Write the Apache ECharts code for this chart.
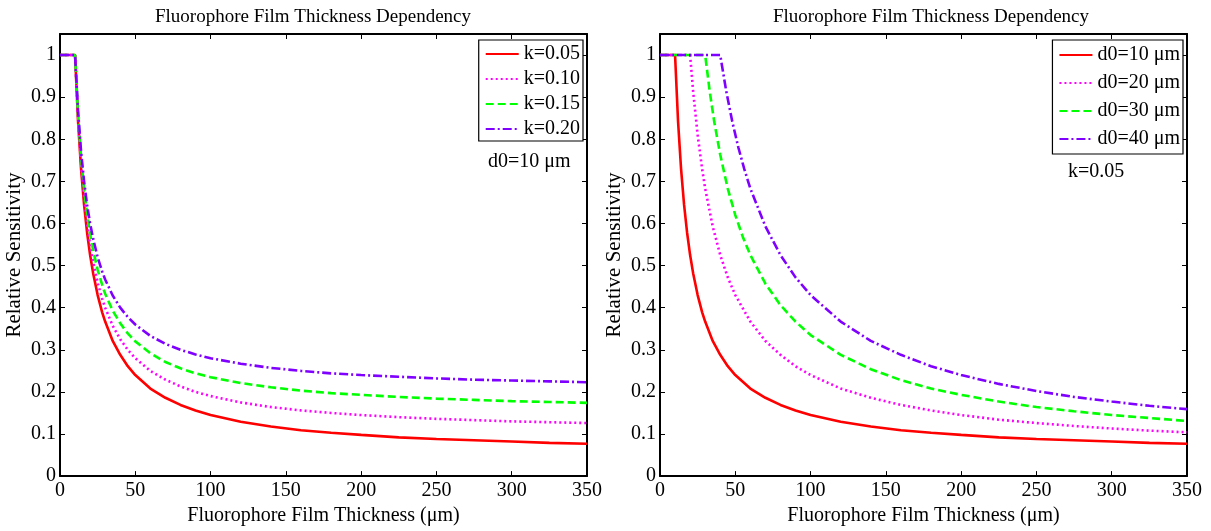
<!DOCTYPE html>
<html>
<head>
<meta charset="utf-8">
<script src="https://cdn.jsdelivr.net/npm/echarts@6/dist/echarts.min.js"></script>
<style>html,body{margin:0;padding:0;background:#fff}#c{width:1211px;height:531px}</style>
</head>
<body>
<div id="c"></div>
<script>
// ---- Left panel: d0 = 10 um, varying k ----
const leftX = [0,10,12,14,16,18,20,22,25,28,30,35,40,45,50,60,70,80,90,100,120,140,160,180,200,225,250,275,300,325,350];
const k005 = [1,1,0.842,0.729,0.644,0.578,0.525,0.482,0.430,0.389,0.367,0.321,0.288,0.261,0.240,0.208,0.186,0.169,0.156,0.145,0.129,0.118,0.109,0.103,0.098,0.092,0.088,0.085,0.082,0.079,0.077];
const k010 = [1,1,0.850,0.743,0.663,0.600,0.550,0.509,0.460,0.421,0.400,0.357,0.325,0.300,0.280,0.250,0.229,0.213,0.200,0.190,0.175,0.164,0.156,0.150,0.145,0.140,0.136,0.133,0.130,0.128,0.126];
const k015 = [1,1,0.858,0.757,0.681,0.622,0.575,0.536,0.490,0.454,0.433,0.393,0.363,0.339,0.320,0.292,0.271,0.256,0.244,0.235,0.221,0.211,0.203,0.197,0.193,0.188,0.184,0.181,0.178,0.176,0.174];
const k020 = [1,1,0.867,0.771,0.700,0.644,0.600,0.564,0.520,0.486,0.467,0.429,0.400,0.378,0.360,0.333,0.314,0.300,0.289,0.280,0.267,0.257,0.250,0.244,0.240,0.236,0.232,0.229,0.227,0.225,0.223];
const leftNames = ['k=0.05','k=0.10','k=0.15','k=0.20'];

// ---- Right panel: k = 0.05, varying d0 ----
const d10X = leftX;
const d10Y = k005;
const d20X = [0,20,22,25,28,30,35,40,45,50,60,70,80,90,100,120,140,160,180,200,225,250,275,300,325,350];
const d20Y = [1,1,0.914,0.810,0.729,0.683,0.593,0.525,0.472,0.430,0.367,0.321,0.288,0.261,0.240,0.208,0.186,0.169,0.156,0.145,0.134,0.126,0.119,0.113,0.108,0.104];
const d30X = [0,30,33,36,40,45,50,55,60,70,80,90,100,120,140,160,180,200,225,250,275,300,325,350];
const d30Y = [1,1,0.914,0.842,0.763,0.683,0.620,0.568,0.525,0.457,0.406,0.367,0.335,0.288,0.254,0.228,0.208,0.193,0.177,0.164,0.154,0.145,0.138,0.131];
const d40X = [0,40,44,48,52,56,60,70,80,90,100,120,140,160,180,200,225,250,275,300,325,350];
const d40Y = [1,1,0.914,0.842,0.781,0.729,0.683,0.593,0.525,0.472,0.430,0.367,0.321,0.288,0.261,0.240,0.219,0.202,0.188,0.177,0.167,0.159];
const rightNames = ['d0=10 \u03bcm','d0=20 \u03bcm','d0=30 \u03bcm','d0=40 \u03bcm'];

const titleText = 'Fluorophore Film Thickness Dependency';
const xName = 'Fluorophore Film Thickness (\u03bcm)';
const yName = 'Relative Sensitivity';
const leftNote = 'd0=10 \u03bcm';
const rightNote = 'k=0.05';

const zip = (xs, ys) => xs.map((x, i) => [x, ys[i]]);
const FONT = '"Liberation Serif", "Times New Roman", serif';
const colors = ['#ff0000', '#ff00ff', '#00ff00', '#7f00ff'];
const dashes = ['solid', [2, 3], [8, 4], [9, 3, 2, 3]];

function mkSeries(name, data, idx, axisIdx) {
  return {
    name, type: 'line', data, xAxisIndex: axisIdx, yAxisIndex: axisIdx,
    symbol: 'none', showSymbol: false, smooth: false, animation: false,
    lineStyle: { color: colors[idx], width: 2.6, type: dashes[idx] },
    itemStyle: { color: colors[idx] }
  };
}

const grids = [
  { left: 60, top: 34, width: 527, height: 444 },
  { left: 660, top: 34, width: 527, height: 444 }
];

const tick = { inside: true, length: 5, lineStyle: { color: '#000', width: 1 } };
const axLine = { onZero: false, lineStyle: { color: '#000', width: 2 } };

function xAxes(gi) {
  return [
    { type: 'value', gridIndex: gi, min: 0, max: 350, interval: 50, position: 'bottom',
      name: xName, nameLocation: 'middle', nameGap: 29,
      nameTextStyle: { fontFamily: FONT, fontSize: 20, color: '#000' },
      axisLine: axLine, axisTick: tick,
      axisLabel: { fontFamily: FONT, fontSize: 20, color: '#000', margin: 5 },
      splitLine: { show: false } },
    { type: 'value', gridIndex: gi, min: 0, max: 350, interval: 50, position: 'top',
      axisLine: axLine, axisTick: tick,
      axisLabel: { show: false }, splitLine: { show: false } }
  ];
}
function yAxes(gi) {
  return [
    { type: 'value', gridIndex: gi, min: 0, max: 1.05, interval: 0.1, position: 'left',
      name: yName, nameLocation: 'middle', nameGap: 35,
      nameTextStyle: { fontFamily: FONT, fontSize: 21, color: '#000' },
      axisLine: axLine, axisTick: tick,
      axisLabel: { fontFamily: FONT, fontSize: 20, color: '#000', margin: 4, showMaxLabel: false },
      splitLine: { show: false } },
    { type: 'value', gridIndex: gi, min: 0, max: 1.05, interval: 0.1, position: 'right',
      axisLine: axLine, axisTick: tick,
      axisLabel: { show: false }, splitLine: { show: false } }
  ];
}

const legendCommon = {
  orient: 'vertical', top: 40, backgroundColor: '#fff',
  borderColor: '#000', borderWidth: 1.2, borderRadius: 0,
  itemWidth: 33, itemHeight: 14,
  itemStyle: { color: 'transparent', borderColor: 'transparent', borderWidth: 0, opacity: 0 },
  textStyle: { fontFamily: FONT, fontSize: 20, color: '#000' }
};

const option = {
  animation: false,
  title: [
    { text: titleText, left: 308, top: 3, textAlign: 'center',
      textStyle: { fontFamily: FONT, fontSize: 19, fontWeight: 'normal', color: '#000' } },
    { text: titleText, left: 926, top: 3, textAlign: 'center',
      textStyle: { fontFamily: FONT, fontSize: 19, fontWeight: 'normal', color: '#000' } }
  ],
  grid: grids,
  xAxis: [...xAxes(0), ...xAxes(1)],
  yAxis: [...yAxes(0), ...yAxes(1)],
  legend: [
    Object.assign({}, legendCommon, { data: leftNames, right: 628, itemGap: 5, padding: [4, 3, 2, 6] }),
    Object.assign({}, legendCommon, { data: rightNames, right: 28, itemGap: 8, padding: [5, 3, 5, 6] })
  ],
  graphic: [
    { type: 'text', left: 488, top: 152, style: { text: leftNote, font: '20px ' + FONT, fill: '#000' } },
    { type: 'text', left: 1068, top: 162, style: { text: rightNote, font: '20px ' + FONT, fill: '#000' } }
  ],
  series: [
    mkSeries(leftNames[0], zip(leftX, k005), 0, 0),
    mkSeries(leftNames[1], zip(leftX, k010), 1, 0),
    mkSeries(leftNames[2], zip(leftX, k015), 2, 0),
    mkSeries(leftNames[3], zip(leftX, k020), 3, 0),
    mkSeries(rightNames[0], zip(d10X, d10Y), 0, 2),
    mkSeries(rightNames[1], zip(d20X, d20Y), 1, 2),
    mkSeries(rightNames[2], zip(d30X, d30Y), 2, 2),
    mkSeries(rightNames[3], zip(d40X, d40Y), 3, 2)
  ]
};

const chart = echarts.init(document.getElementById('c'), null, { renderer: 'canvas' });
chart.setOption(option);
</script>
</body>
</html>
